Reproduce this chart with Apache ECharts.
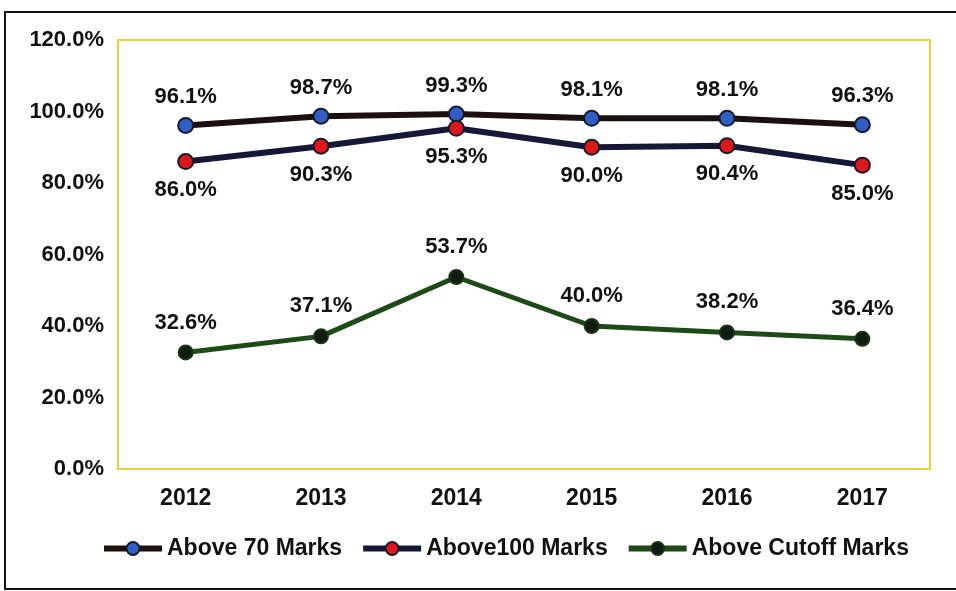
<!DOCTYPE html>
<html>
<head>
<meta charset="utf-8">
<script src="https://cdn.jsdelivr.net/npm/echarts@6/dist/echarts.min.js"></script>
<style>
  html, body { margin: 0; padding: 0; background: #fff; }
  #chart { width: 956px; height: 591px; }
</style>
</head>
<body>
<div id="chart"></div>
<script>
var years = ['2012', '2013', '2014', '2015', '2016', '2017']
var above70 = [96.1, 98.7, 99.3, 98.1, 98.1, 96.3]
var above100 = [86.0, 90.3, 95.3, 90.0, 90.4, 85.0]
var aboveCutoff = [32.6, 37.1, 53.7, 40.0, 38.2, 36.4]

var font = 'Liberation Sans, Arial, sans-serif'

var chart = echarts.init(document.getElementById('chart'))

function pct(p) { return p.value.toFixed(1) + '%' }

var labelStyle = { fontFamily: font, fontWeight: 'bold', fontSize: 22, color: '#111' }

var option = {
  backgroundColor: '#fff',
  animation: false,
  graphic: [{
    type: 'rect',
    shape: { x: 5, y: 12, width: 970, height: 577 },
    style: { fill: 'none', stroke: '#111', lineWidth: 2 }
  }],
  grid: {
    left: 118, right: 26, top: 40, bottom: 122,
    show: true, borderColor: '#e8d23a', borderWidth: 2, backgroundColor: '#fff'
  },
  legend: {
    bottom: 26,
    left: 96,
    itemWidth: 58,
    itemHeight: 16,
    itemGap: 18,
    lineStyle: { width: 6 },
    textStyle: { fontFamily: font, fontWeight: 'bold', fontSize: 23, color: '#111' },
    data: ['Above 70 Marks', 'Above100 Marks', 'Above Cutoff Marks']
  },
  xAxis: {
    type: 'category',
    data: years,
    axisLine: { show: false },
    axisTick: { show: false },
    axisLabel: { fontFamily: font, fontWeight: 'bold', fontSize: 23, color: '#111', margin: 18 }
  },
  yAxis: {
    type: 'value',
    min: 0, max: 120, interval: 20,
    axisLine: { show: false },
    axisTick: { show: false },
    splitLine: { show: false },
    axisLabel: {
      fontFamily: font, fontWeight: 'bold', fontSize: 22, color: '#111', margin: 14,
      formatter: function (v) { return v.toFixed(1) + '%' }
    }
  },
  series: [
    {
      name: 'Above 70 Marks', type: 'line', data: above70,
      symbol: 'circle', symbolSize: 15,
      lineStyle: { color: '#1c0f10', width: 6 },
      itemStyle: { color: '#2f5fc4', borderColor: '#1a1a2a', borderWidth: 2 },
      label: Object.assign({ show: true, position: 'top', distance: 9, formatter: pct }, labelStyle)
    },
    {
      name: 'Above100 Marks', type: 'line', data: above100,
      symbol: 'circle', symbolSize: 15,
      lineStyle: { color: '#161838', width: 6 },
      itemStyle: { color: '#e0161d', borderColor: '#1a1a2a', borderWidth: 2 },
      label: Object.assign({ show: true, position: 'bottom', distance: 9, formatter: pct }, labelStyle)
    },
    {
      name: 'Above Cutoff Marks', type: 'line', data: aboveCutoff,
      symbol: 'circle', symbolSize: 14,
      lineStyle: { color: '#1e4a18', width: 5 },
      itemStyle: { color: '#101c0f', borderColor: '#1a3515', borderWidth: 2 },
      label: Object.assign({ show: true, position: 'top', distance: 11, formatter: pct }, labelStyle)
    }
  ]
}

option && chart.setOption(option)
</script>
</body>
</html>
